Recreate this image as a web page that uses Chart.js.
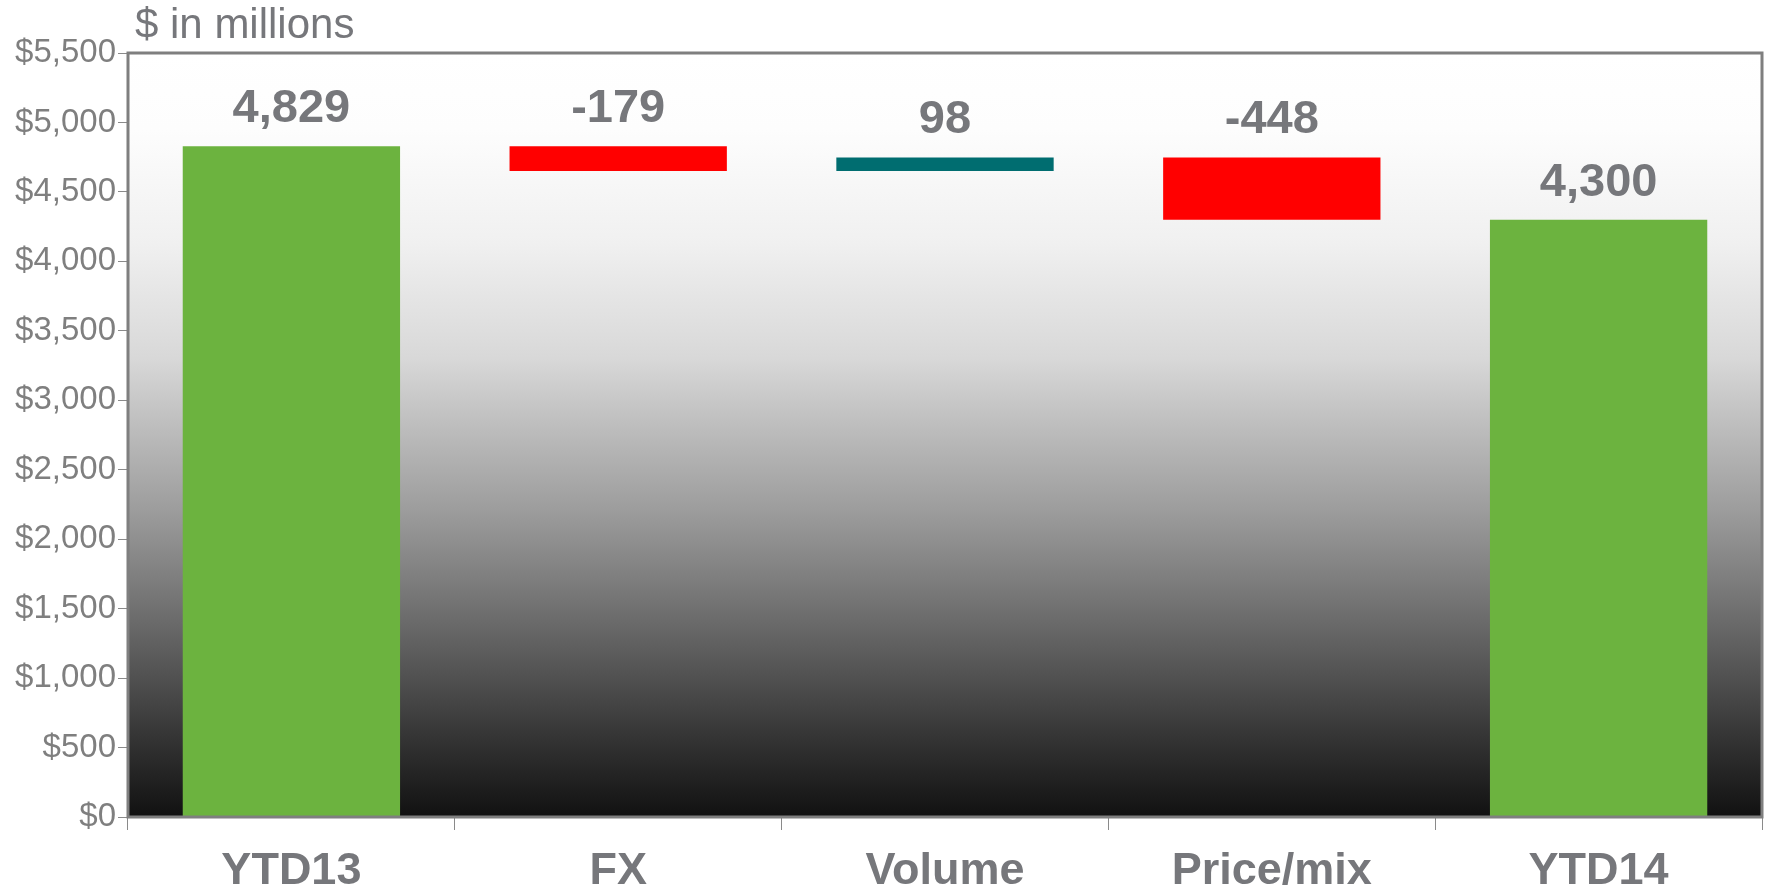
<!DOCTYPE html>
<html>
<head>
<meta charset="utf-8">
<script src="https://cdn.jsdelivr.net/npm/chart.js@4/dist/chart.umd.min.js"></script>
<style>
  html, body { margin: 0; padding: 0; background: #fff; }
  #wrap { width: 1767px; height: 890px; }
</style>
</head>
<body>
<div id="wrap"><canvas id="bridge"></canvas></div>
<script>
const categories = ['YTD13', 'FX', 'Volume', 'Price/mix', 'YTD14'];
const changes = [4829, -179, 98, -448, 4300];
const isTotal = [true, false, false, false, true];
const barColors = ['#6cb33f', '#ff0000', '#006d70', '#ff0000', '#6cb33f'];
const yTicks = [0, 500, 1000, 1500, 2000, 2500, 3000, 3500, 4000, 4500, 5000, 5500];
const unitLabel = '$ in millions';

const FONT = "'Liberation Sans', Arial, sans-serif";
const GREY = '#76777b';

// waterfall: totals start at 0, steps float from the running sum
let running = 0;
const ranges = changes.map((v, i) => {
  if (isTotal[i]) { running = v; return [0, v]; }
  const from = running;
  running += v;
  return [from, running];
});

const bgPlugin = {
  id: 'plotBg',
  beforeDatasetsDraw(chart) {
    const {ctx, chartArea: a} = chart;
    const g = ctx.createLinearGradient(0, a.top, 0, a.bottom);
    g.addColorStop(0, '#ffffff');
    g.addColorStop(0.1, '#fdfdfd');
    g.addColorStop(0.25, '#f0f0f0');
    g.addColorStop(0.4, '#d8d8d8');
    g.addColorStop(0.5, '#bababa');
    g.addColorStop(0.6, '#9c9c9c');
    g.addColorStop(0.7, '#7a7a7a');
    g.addColorStop(0.8, '#575757');
    g.addColorStop(0.9, '#333333');
    g.addColorStop(1, '#111111');
    ctx.save();
    ctx.fillStyle = g;
    ctx.fillRect(a.left, a.top, a.right - a.left, a.bottom - a.top);
    ctx.restore();
  },
  afterDatasetsDraw(chart) {
    const {ctx, chartArea: a} = chart;
    ctx.save();
    ctx.strokeStyle = '#7f7f7f';
    ctx.lineWidth = 3;
    ctx.strokeRect(a.left, a.top, a.right - a.left, a.bottom - a.top);
    // unit label above the plot
    ctx.fillStyle = GREY;
    ctx.font = '42px ' + FONT;
    ctx.textAlign = 'left';
    ctx.textBaseline = 'middle';
    ctx.fillText(unitLabel, a.left + 7, 26);
    // value labels above each bar
    const meta = chart.getDatasetMeta(0);
    ctx.font = 'bold 47px ' + FONT;
    ctx.textAlign = 'center';
    meta.data.forEach((bar, i) => {
      const top = Math.min(bar.y, bar.base);
      ctx.fillText(changes[i].toLocaleString('en-US'), bar.x, top - 37);
    });
    ctx.restore();
  }
};

new Chart(document.getElementById('bridge'), {
  type: 'bar',
  data: {
    labels: categories,
    datasets: [{
      data: ranges,
      backgroundColor: barColors,
      borderWidth: 0,
      barPercentage: 0.665,
      categoryPercentage: 1
    }]
  },
  options: {
    responsive: true,
    maintainAspectRatio: false,
    animation: false,
    layout: { padding: { top: 53, right: 5, left: 0, bottom: 0 } },
    plugins: {
      legend: { display: false },
      tooltip: { enabled: false },
      title: { display: false }
    },
    scales: {
      x: {
        offset: true,
        grid: { offset: true, drawOnChartArea: false, drawTicks: true, tickLength: 13, color: '#8a8a8a' },
        border: { display: false },
        ticks: { color: GREY, padding: 15, font: { family: FONT, size: 45, weight: 'bold' } },
        afterFit(scale) { scale.height = 73; }
      },
      y: {
        min: 0,
        max: 5500,
        afterBuildTicks(scale) { scale.ticks = yTicks.map(v => ({value: v})); },
        grid: { drawOnChartArea: false, drawTicks: true, tickLength: 10, color: '#8a8a8a' },
        border: { display: false },
        ticks: {
          color: '#7f7f7f',
          padding: 2,
          font: { family: FONT, size: 33 },
          callback: v => '$' + v.toLocaleString('en-US')
        },
        afterFit(scale) { scale.width = 128; }
      }
    }
  },
  plugins: [bgPlugin]
});
</script>
</body>
</html>
